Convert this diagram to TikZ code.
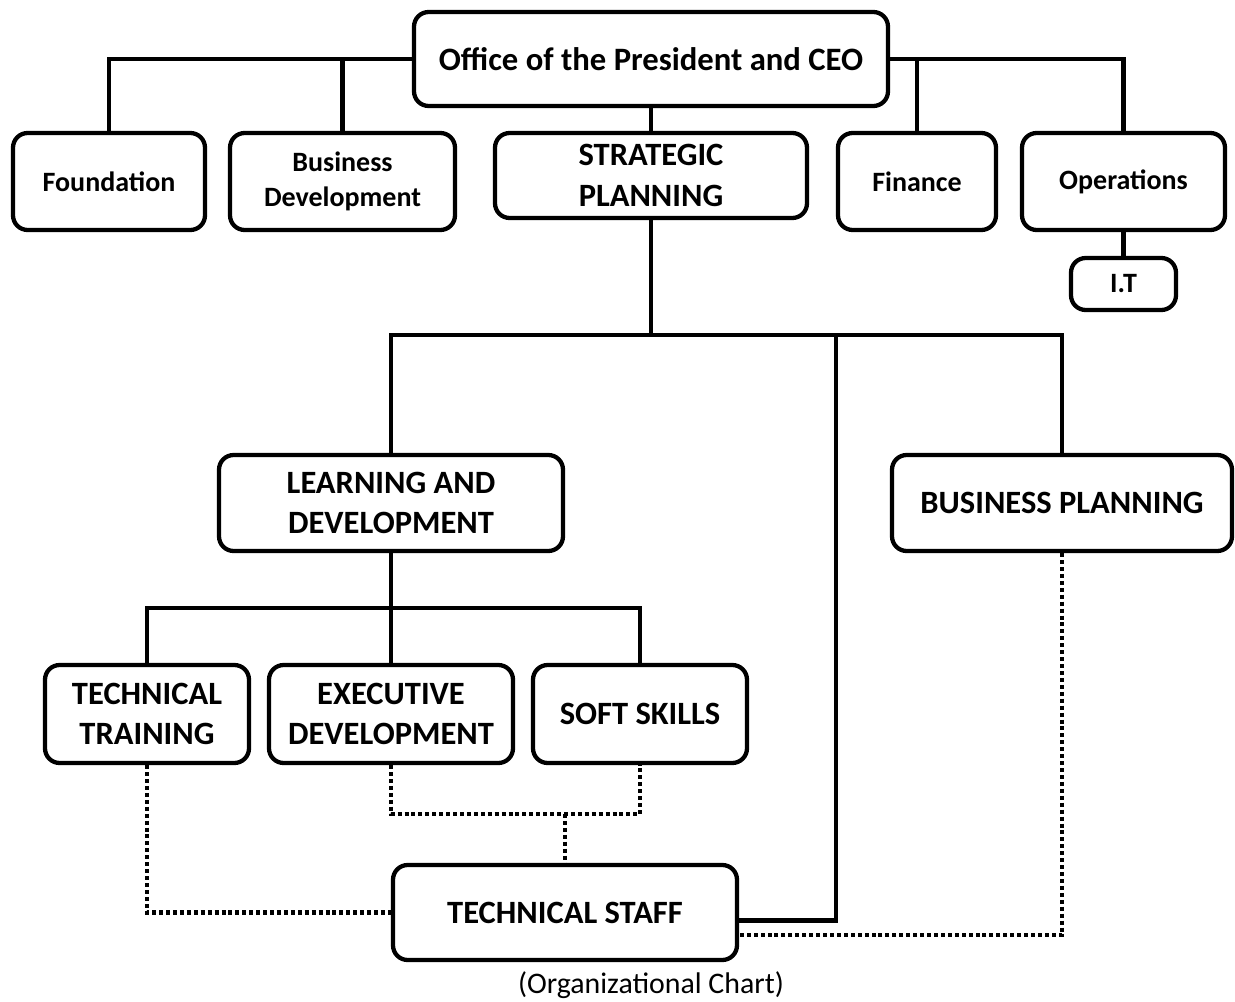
\documentclass[tikz,border=0pt]{standalone}
\usepackage{fontspec}
\setmainfont{Carlito}
\usepackage{tikz}
\usetikzlibrary{calc}
\definecolor{ink}{HTML}{000000}
\definecolor{paper}{HTML}{FFFFFF}
\tikzset{
  box/.style={draw=ink, line width=3.2pt, rounded corners=11pt, fill=paper,
    align=center, inner sep=2pt},
  small/.style={box, font=\bfseries\fontsize{21}{26.5}\selectfont},
  head/.style={box, font=\bfseries\fontsize{24.5}{30}\selectfont},
  caps/.style={box, font=\bfseries\fontsize{24.4}{30.5}\selectfont},
  link/.style={draw=ink, line width=3.2pt},
  dotlink/.style={draw=ink, line width=3.2pt, dash pattern=on 3pt off 2.2pt},
  caption/.style={font=\fontsize{22.4}{26}\selectfont, text=ink}
}

\begin{document}
\begin{tikzpicture}[x=0.75pt, y=-0.75pt]
  \useasboundingbox (0,0) rectangle (1235,1002);

  % top level
  \node[head, minimum width=355.5pt, minimum height=70.5pt] (ceo) at (651,59) {Office of the President and CEO};
  \node[small, minimum width=144pt, minimum height=72.75pt] (fdn) at (109,181.5) {Foundation};
  \node[small, minimum width=168.75pt, minimum height=72.75pt] (bizdev) at (342.5,181.5) {Business\\Development};
  \node[caps, minimum width=234pt, minimum height=63.75pt] (strat) at (651,175.5) {STRATEGIC\\PLANNING};
  \node[small, minimum width=118.5pt, minimum height=72.75pt] (fin) at (917,181.5) {Finance};
  \node[small, minimum width=152.25pt, minimum height=72.75pt] (ops) at (1123.5,181.5) {Operations};
  \node[small, minimum width=78.75pt, minimum height=39pt] (it) at (1123.5,284) {I.T};

  % second level
  \node[caps, minimum width=258pt, minimum height=72pt] (lnd) at (391,503) {LEARNING AND\\DEVELOPMENT};
  \node[caps, minimum width=255pt, minimum height=72pt] (bplan) at (1062,503) {BUSINESS PLANNING};

  % third level
  \node[caps, minimum width=153pt, minimum height=73.5pt] (ttrain) at (147,714) {TECHNICAL\\TRAINING};
  \node[caps, minimum width=183pt, minimum height=73.5pt] (exdev) at (391,714) {EXECUTIVE\\DEVELOPMENT};
  \node[caps, minimum width=160.5pt, minimum height=73.5pt] (soft) at (640,714) {SOFT SKILLS};
  \node[caps, minimum width=258pt, minimum height=71.25pt] (tstaff) at (565,912.5) {TECHNICAL STAFF};

  \node[caption] (cap) at (651,985) {(Organizational Chart)};

  \coordinate (spbar) at (651,335);
  \coordinate (tsbar) at (836,335);
  \coordinate (ldbar) at (391,608);
  \coordinate (edbar) at (565,814);

  % solid lines
  \draw[link] (ceo.west) -| (fdn.north);
  \draw[link] (bizdev.north) -- (bizdev.north |- ceo.west);
  \draw[link] (ceo.east) -| (ops.north);
  \draw[link] (fin.north) -- (fin.north |- ceo.east);
  \draw[link] (ceo.south) -- (strat.north);
  \draw[link] (ops.south) -- (it.north);
  \draw[link] (strat.south) -- (spbar);
  \draw[link] (lnd.north) |- (bplan.north |- spbar) -- (bplan.north);
  \draw[link] (tsbar) |- ([yshift=-6pt]tstaff.east);
  \draw[link] (lnd.south) -- (exdev.north);
  \draw[link] (ttrain.north) |- (soft.north |- ldbar) -- (soft.north);

  % dotted lines
  \draw[dotlink] (ttrain.south) |- (tstaff.west);
  \draw[dotlink] (exdev.south) |- (edbar) -| (soft.south);
  \draw[dotlink] (edbar) -- (tstaff.north);
  \draw[dotlink] (bplan.south) |- ([yshift=-17pt]tstaff.east);
\end{tikzpicture}
\end{document}
